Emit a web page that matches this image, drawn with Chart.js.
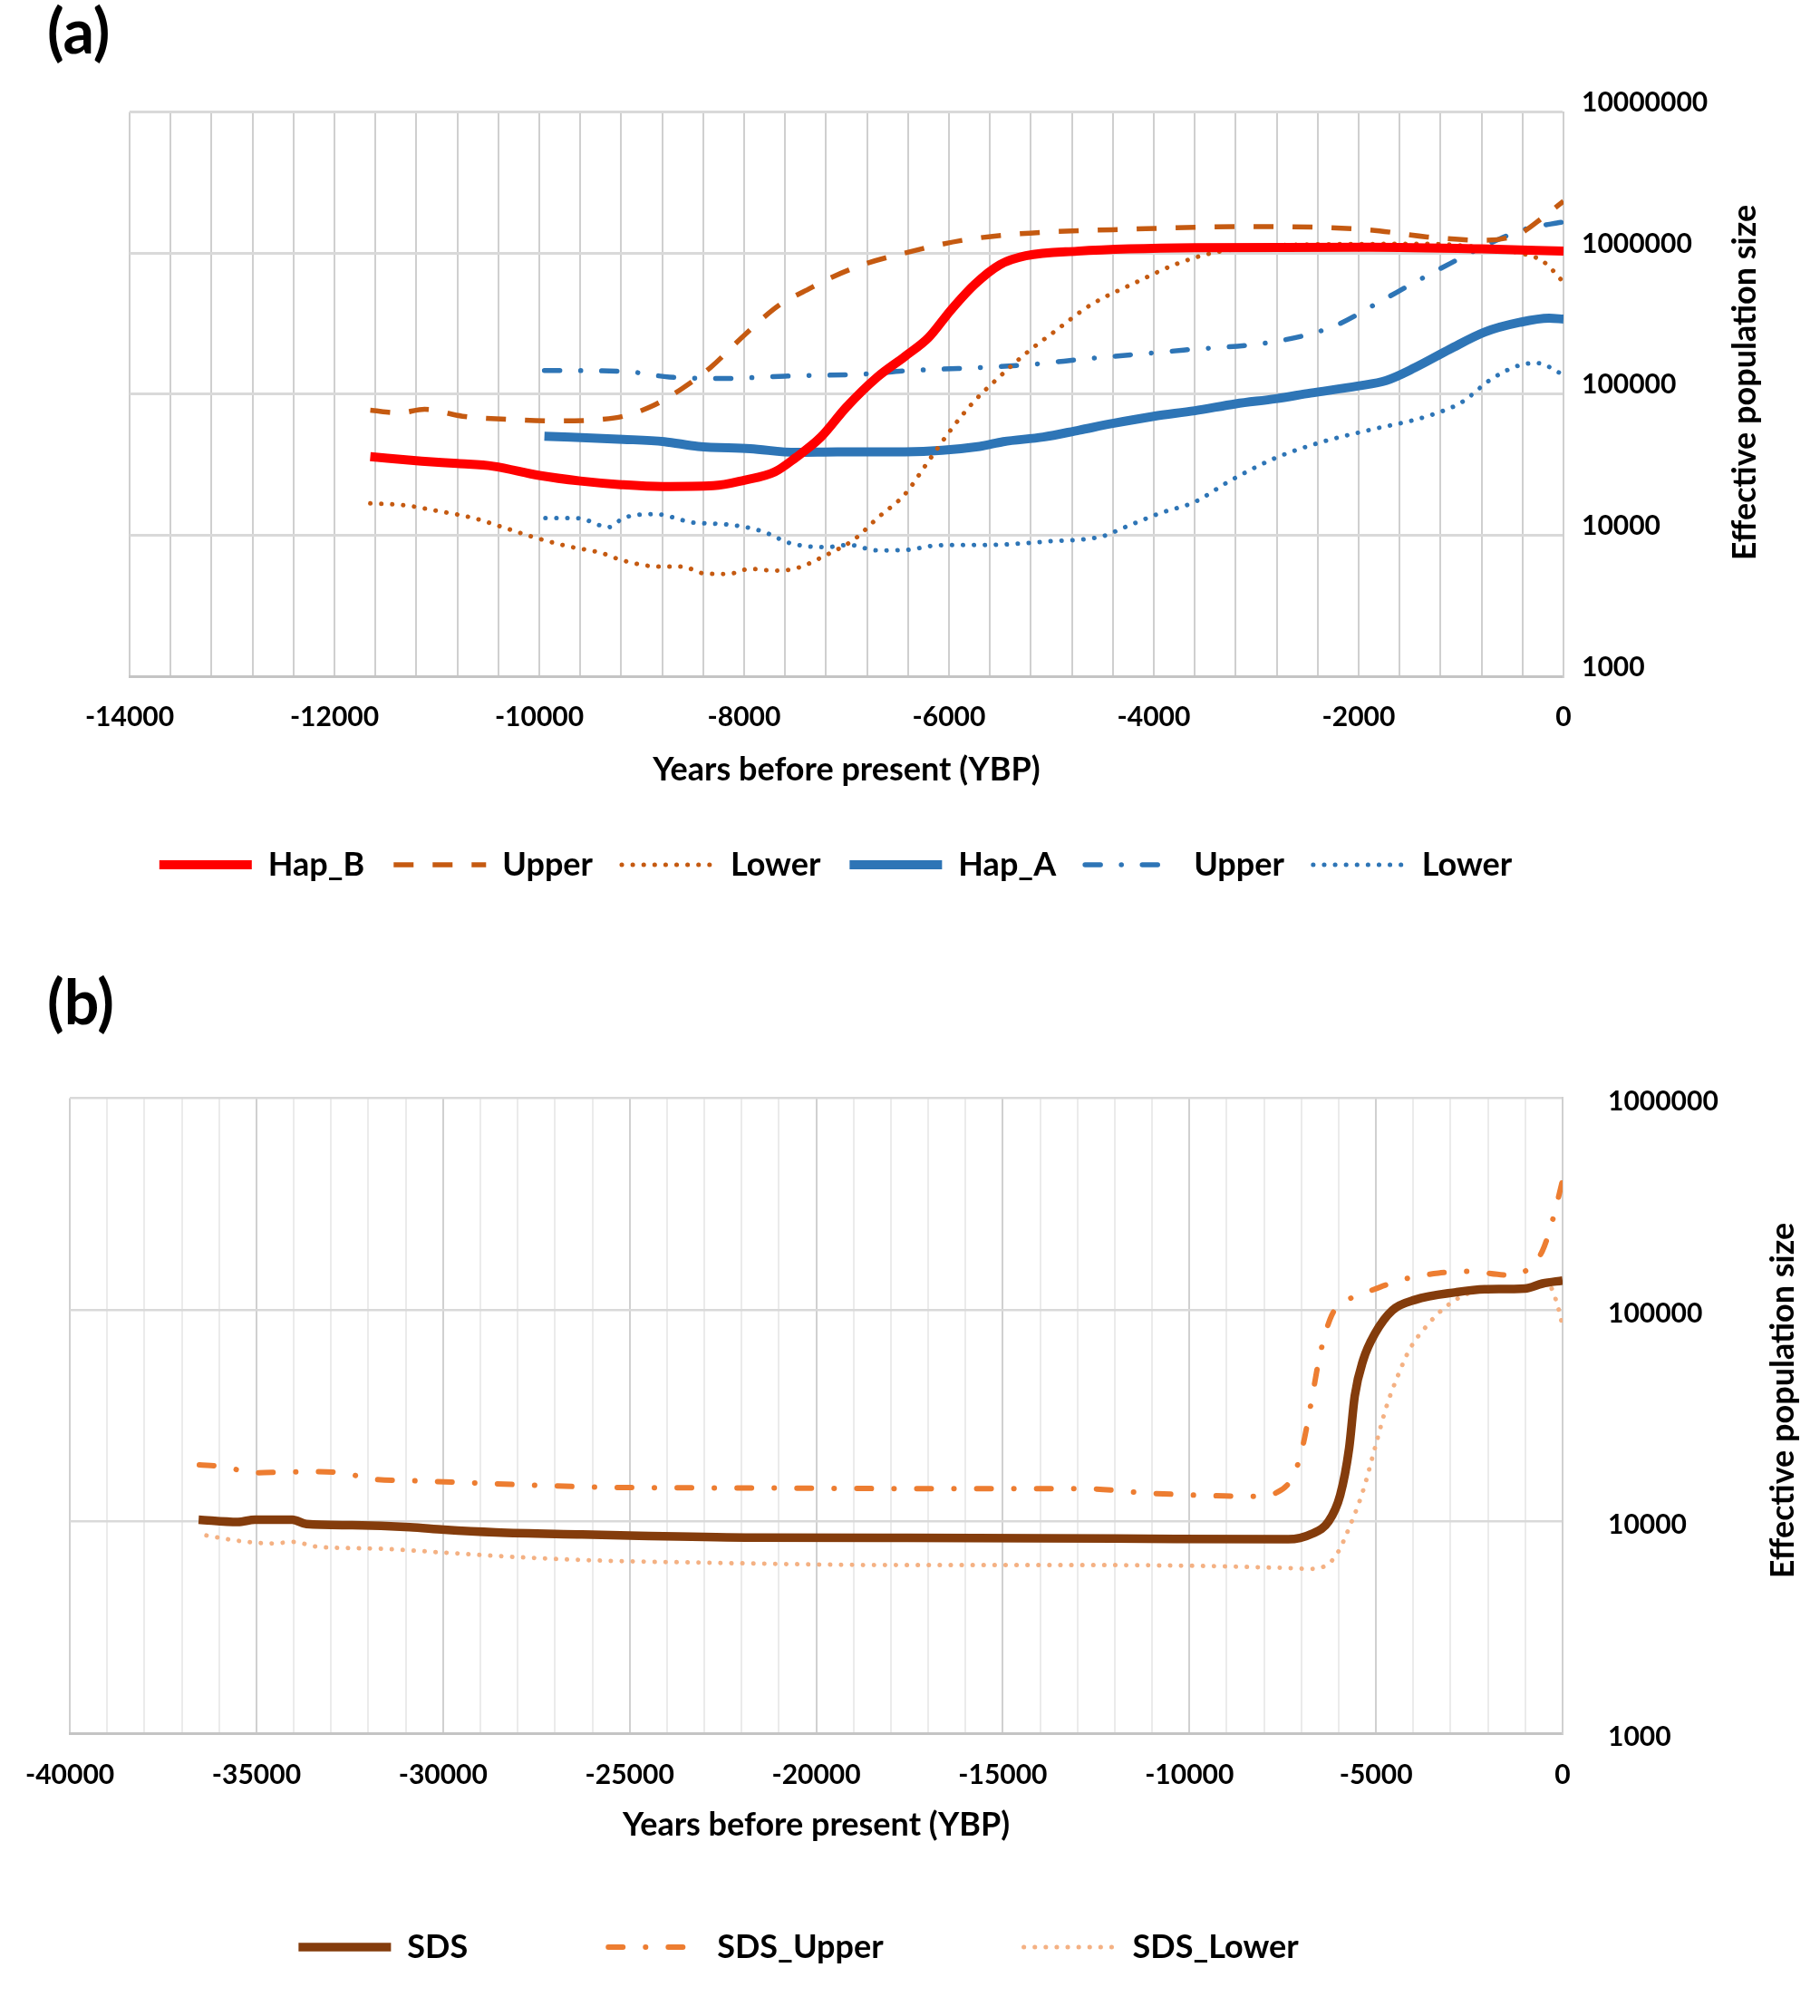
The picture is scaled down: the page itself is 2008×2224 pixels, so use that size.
<!DOCTYPE html>
<html>
<head>
<meta charset="utf-8">
<script src="https://cdn.jsdelivr.net/npm/chart.js@4.4.1/dist/chart.umd.min.js"></script>
<style>
  body { margin: 0; background: #fff; }
  #page { position: relative; width: 2008px; height: 2224px; overflow: hidden; background: #fff; }
  canvas { position: absolute; left: 0; }
  .tag { position: absolute; left: 52px; font: bold 68px Lato, sans-serif; color: #000; }
</style>
</head>
<body>
<div id="page">
  <div class="tag" style="top:-8px">(a)</div>
  <canvas id="chartA" width="2008" height="1000" style="top:0"></canvas>
  <div class="tag" style="top:1063px">(b)</div>
  <canvas id="chartB" width="2008" height="1224" style="top:1000px"></canvas>
</div>
<script>
    // panel (a): Hap_B / Hap_A
    const hapBYears = [-11650, -11150, -10800, -10450, -10000, -9600, -9200, -8800, -8300, -8000, -7700, -7500, -7250, -7000, -6700, -6430, -6200, -5980, -5750, -5500, -5250, -4750, -3600, -1900, -800, 0];
    const hapB = [36000, 33500, 32200, 30800, 26500, 24200, 22800, 22100, 22400, 24500, 28100, 35300, 49600, 81000, 132000, 185000, 251000, 395000, 598000, 828000, 955000, 1030000, 1090000, 1100000, 1070000, 1030000];

    const hapBUpperYears = [-11650, -11370, -11120, -10750, -10300, -9850, -9400, -9180, -8900, -8610, -8330, -8000, -7660, -7370, -7150, -6810, -6430, -5870, -5300, -4170, -3030, -1900, -1330, -770, -430, -200, 0];
    const hapBUpper = [76800, 73500, 78000, 69700, 66100, 64500, 66100, 69700, 82200, 109000, 154000, 261000, 426000, 555000, 670000, 841000, 1000000, 1230000, 1370000, 1480000, 1540000, 1460000, 1300000, 1230000, 1370000, 1790000, 2330000];

    const hapBLowerYears = [-11650, -11320, -10980, -10640, -10360, -10080, -9740, -9400, -9180, -8840, -8610, -8390, -8160, -7940, -7710, -7490, -7200, -6920, -6700, -6430, -6210, -5980, -5760, -5530, -5250, -4960, -4620, -4170, -3770, -3370, -2470, -1330, -770, -430, -200, 0];
    const hapBLower = [16800, 16300, 14800, 13200, 11400, 9800, 8400, 7500, 6600, 6000, 6000, 5350, 5300, 5770, 5600, 5830, 7220, 9400, 13200, 19500, 32700, 56000, 88000, 128000, 194000, 281000, 427000, 621000, 841000, 1020000, 1150000, 1160000, 1090000, 1000000, 873000, 621000];

    const hapAYears = [-9950, -9180, -8780, -8450, -7940, -7490, -7090, -6430, -5700, -5470, -5080, -4730, -4390, -4000, -3600, -3200, -2810, -2470, -2010, -1730, -1450, -1110, -770, -430, -140, 0];
    const hapA = [50300, 47800, 46000, 42600, 41000, 38600, 38900, 39000, 42600, 46000, 49600, 55500, 62100, 69600, 76200, 85300, 92700, 101600, 114000, 125000, 154000, 208000, 275000, 322000, 345000, 340000];

    const hapAUpperYears = [-9950, -9180, -8730, -8220, -7600, -6810, -6430, -5300, -4620, -3710, -2810, -2240, -1790, -1450, -1110, -710, -370, 0];
    const hapAUpper = [147000, 145000, 132000, 129000, 134000, 139000, 146000, 160000, 179000, 205000, 236000, 303000, 453000, 621000, 841000, 1180000, 1480000, 1660000];

    const hapALowerYears = [-9940, -9630, -9320, -9180, -8870, -8500, -8160, -7830, -7540, -7200, -6980, -6700, -6430, -6100, -5590, -5020, -4510, -4280, -3940, -3600, -3260, -2810, -2350, -1900, -1330, -990, -710, -430, -260, 0];
    const hapALower = [13200, 13200, 11400, 13200, 14100, 12300, 11900, 10700, 8730, 8220, 8530, 7800, 7850, 8470, 8530, 9050, 9780, 11400, 14300, 17200, 24200, 35300, 46000, 55500, 69700, 87900, 127000, 160000, 166000, 137000];

    // panel (b): SDS
    const sdsYears = [-36550, -35500, -35040, -34040, -33660, -32430, -30890, -29970, -28590, -26280, -24750, -21680, -17560, -12000, -7350, -6730, -6270, -5960, -5720, -5570, -5340, -5030, -4560, -3950, -2860, -2090, -1010, -540, 0];
    const sds = [10200, 9950, 10200, 10200, 9720, 9600, 9400, 9140, 8880, 8680, 8560, 8390, 8370, 8300, 8240, 8730, 10000, 13300, 22200, 39100, 58100, 77100, 99500, 111500, 121000, 125000, 126000, 133000, 137500];

    const sdsUpperYears = [-36530, -35930, -35040, -34320, -33500, -32740, -31810, -30890, -29510, -27820, -25520, -21680, -17560, -12920, -11060, -9050, -8280, -7660, -7190, -6960, -6730, -6500, -6190, -5800, -5180, -4250, -3330, -2550, -1470, -1010, -540, -260, 0];
    const sdsUpper = [18500, 18200, 17000, 17100, 17200, 17000, 15800, 15600, 15300, 14900, 14500, 14400, 14300, 14300, 13600, 13200, 13150, 13700, 16800, 22800, 37000, 61500, 94000, 110000, 122500, 139500, 149000, 152000, 146000, 152000, 190000, 268000, 409000];

    const sdsLowerYears = [-36340, -35500, -34580, -34010, -33350, -31810, -30120, -28590, -26280, -23210, -17560, -12000, -7500, -6730, -6110, -5650, -5340, -5030, -4720, -4410, -4100, -3640, -3170, -2550, -1470, -850, -390, -155, 0];
    const sdsLower = [8590, 8110, 7880, 8000, 7590, 7450, 7160, 6880, 6580, 6400, 6220, 6220, 6040, 5970, 6760, 10000, 14100, 22200, 34900, 49000, 65000, 84000, 102000, 119000, 127000, 127000, 132000, 108000, 84000];

    const ticksA = [1000, 10000, 100000, 1000000, 10000000];
    const ticksB = [1000, 10000, 100000, 1000000];

    const fontFamily = 'Lato, "Open Sans", sans-serif';
    const pts = (xs, ys) => xs.map((x, i) => ({ x: x, y: ys[i] }));

    // y title reads bottom-to-top on the right side
    const sideTitle = {
        id: 'sideTitle',
        afterDraw(chart, args, opts) {
            const ctx = chart.ctx;
            ctx.save();
            ctx.translate(opts.x, opts.y);
            ctx.rotate(-Math.PI / 2);
            ctx.font = 'bold 36px ' + fontFamily;
            ctx.fillStyle = '#000';
            ctx.textAlign = 'center';
            ctx.textBaseline = 'middle';
            ctx.fillText(opts.text, 0, 0);
            ctx.restore();
        }
    };

    // move the legend row to where it sits in the figure
    const placeLegend = {
        id: 'placeLegend',
        afterLayout(chart, args, opts) {
            const lg = chart.legend;
            const lab = lg.options.labels;
            const dx = opts.cx - (lg.left + lg.right) / 2;
            const dy = opts.cy - (lg.top + lab.padding + lab.font.size / 2);
            lg.left += dx; lg.right += dx;
            lg.top += dy;
            lg.bottom = lg.top + lab.padding + lab.font.size * 2;
        }
    };

    // legend keeps the dash pattern of each line
    const lineLabels = chart => Chart.defaults.plugins.legend.labels.generateLabels(chart).map(item => {
        const ds = chart.data.datasets[item.datasetIndex];
        item.lineDash = ds.borderDash;
        item.lineCap = ds.borderCapStyle;
        item.lineWidth = ds.borderWidth;
        item.strokeStyle = ds.borderColor;
        item.pointStyle = 'line';
        return item;
    });

    const line = (label, data, color, width, dash, cap) => ({
        label: label,
        data: data,
        borderColor: color,
        backgroundColor: color,
        borderWidth: width,
        borderDash: dash || [],
        borderCapStyle: cap || 'butt',
        pointRadius: 0,
        fill: false,
        cubicInterpolationMode: 'monotone'
    });

    const tickFont = { family: fontFamily, size: 30, weight: 'bold' };
    const titleFont = { family: fontFamily, size: 36, weight: 'bold' };
    const legendFont = { family: fontFamily, size: 36, weight: 'bold' };

    new Chart(document.getElementById('chartA'), {
        type: 'line',
        data: {
            datasets: [
                line('Hap_B', pts(hapBYears, hapB), '#ff0000', 10),
                line('Upper', pts(hapBUpperYears, hapBUpper), '#c55a11', 5.5, [22, 21]),
                line('Lower', pts(hapBLowerYears, hapBLower), '#c55a11', 5, [0.1, 12], 'round'),
                line('Hap_A', pts(hapAYears, hapA), '#2e75b6', 10),
                line('Upper', pts(hapAUpperYears, hapAUpper), '#2e75b6', 5.5, [17, 23, 0.1, 23], 'round'),
                line('Lower', pts(hapALowerYears, hapALower), '#2e75b6', 5, [0.1, 12], 'round')
            ]
        },
        plugins: [sideTitle, placeLegend],
        options: {
            responsive: false,
            animation: false,
            layout: { padding: { left: 143, top: 123.5, right: 0, bottom: 51 } },
            scales: {
                x: {
                    type: 'linear',
                    min: -14000,
                    max: 0,
                    afterFit: a => { a.height = 125; },
                    ticks: {
                        stepSize: 400,
                        maxTicksLimit: 100,
                        autoSkip: false,
                        maxRotation: 0,
                        padding: 27,
                        color: '#000',
                        font: tickFont,
                        callback: v => v % 2000 === 0 ? String(v) : ''
                    },
                    grid: { color: '#cfcfcf', lineWidth: 2, drawTicks: false },
                    border: { color: '#c4c4c4', width: 3 },
                    title: { display: true, text: 'Years before present (YBP)', color: '#000', font: titleFont, padding: 0 }
                },
                y: {
                    type: 'logarithmic',
                    position: 'right',
                    min: 1000,
                    max: 10000000,
                    afterFit: a => { a.width = 283; },
                    afterBuildTicks: a => { a.ticks = ticksA.map(v => ({ value: v })); },
                    ticks: { padding: 20, labelOffset: -10, color: '#000', font: tickFont, callback: v => String(v) },
                    grid: { color: '#d9d9d9', lineWidth: 3, drawTicks: false },
                    border: { color: '#cfcfcf', width: 2 }
                }
            },
            plugins: {
                legend: {
                    position: 'bottom',
                    maxHeight: 84,
                    labels: {
                        usePointStyle: true,
                        pointStyle: 'line',
                        pointStyleWidth: 102,
                        padding: 32,
                        color: '#000',
                        font: legendFont,
                        generateLabels: lineLabels
                    }
                },
                tooltip: { enabled: false },
                sideTitle: { text: 'Effective population size', x: 1925, y: 422 },
                placeLegend: { cx: 922, cy: 954 }
            }
        }
    });

    new Chart(document.getElementById('chartB'), {
        type: 'line',
        data: {
            datasets: [
                line('SDS', pts(sdsYears, sds), '#843c0c', 9.5),
                line('SDS_Upper', pts(sdsUpperYears, sdsUpper), '#ed7d31', 6, [16, 25, 0.1, 25], 'round'),
                line('SDS_Lower', pts(sdsLowerYears, sdsLower), '#f4b183', 5, [0.1, 12], 'round')
            ]
        },
        plugins: [sideTitle, placeLegend],
        options: {
            responsive: false,
            animation: false,
            layout: { padding: { left: 67.5, top: 211.4, right: 0, bottom: 109 } },
            scales: {
                x: {
                    type: 'linear',
                    min: -40000,
                    max: 0,
                    afterFit: a => { a.height = 123; },
                    ticks: {
                        stepSize: 1000,
                        maxTicksLimit: 100,
                        autoSkip: false,
                        maxRotation: 0,
                        padding: 28,
                        color: '#000',
                        font: tickFont,
                        callback: v => v % 5000 === 0 ? String(v) : ''
                    },
                    grid: {
                        color: c => c.tick && c.tick.value % 5000 === 0 ? '#d0d0d0' : '#ebebeb',
                        lineWidth: 2,
                        drawTicks: false
                    },
                    border: { color: '#c4c4c4', width: 3 },
                    title: { display: true, text: 'Years before present (YBP)', color: '#000', font: titleFont, padding: 0 }
                },
                y: {
                    type: 'logarithmic',
                    position: 'right',
                    min: 1000,
                    max: 1000000,
                    afterFit: a => { a.width = 284; },
                    afterBuildTicks: a => { a.ticks = ticksB.map(v => ({ value: v })); },
                    ticks: { padding: 50, labelOffset: 4, color: '#000', font: tickFont, callback: v => String(v) },
                    grid: { color: '#d9d9d9', lineWidth: 2.5, drawTicks: false },
                    border: { color: '#d0d0d0', width: 2 }
                }
            },
            plugins: {
                legend: {
                    position: 'bottom',
                    maxHeight: 80,
                    labels: {
                        usePointStyle: true,
                        pointStyle: 'line',
                        pointStyleWidth: 102,
                        padding: 155,
                        color: '#000',
                        font: legendFont,
                        generateLabels: lineLabels
                    }
                },
                tooltip: { enabled: false },
                sideTitle: { text: 'Effective population size', x: 1967, y: 545 },
                placeLegend: { cx: 881, cy: 1148 }
            }
        }
    });
</script>
</body>
</html>
